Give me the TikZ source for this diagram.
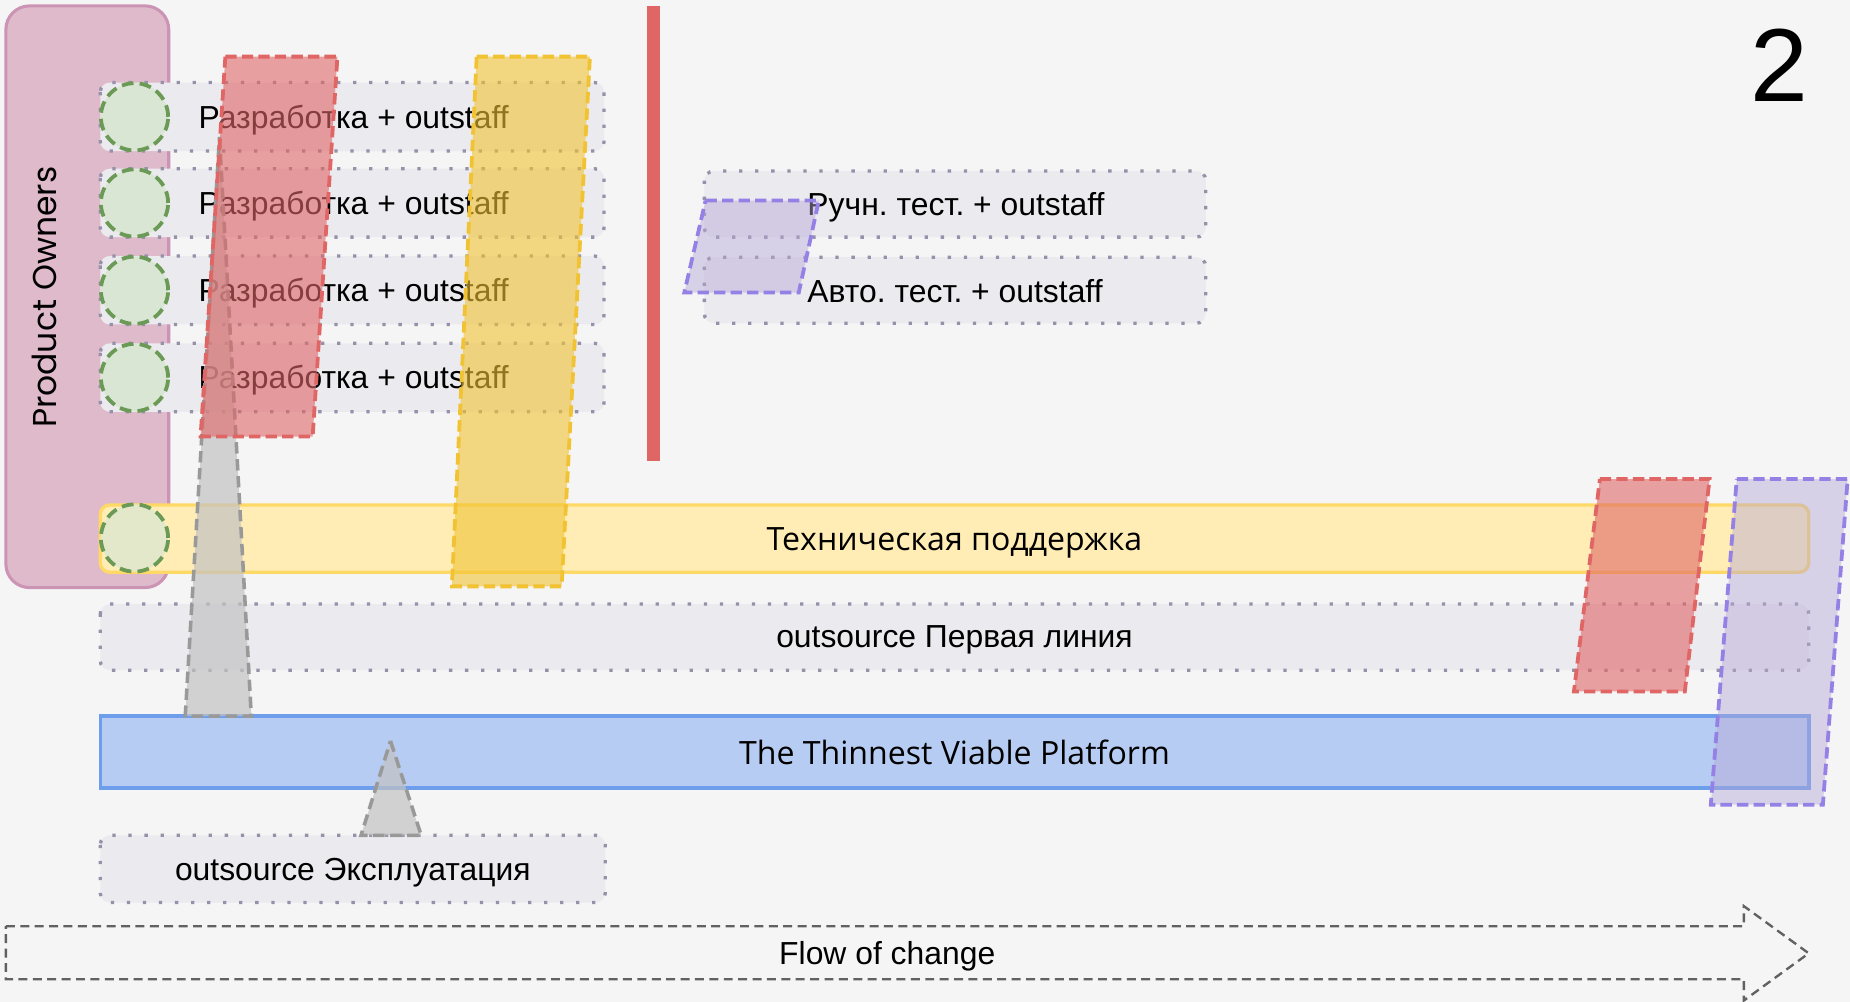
\documentclass[tikz,border=0pt]{standalone}
\usepackage{fontspec}
\setmainfont{Liberation Sans}
\newfontfamily\osans{Open Sans}
\newfontfamily\popfont{Poppins}
\frenchspacing
\usetikzlibrary{calc}
\definecolor{bgc}{HTML}{F5F5F5}
\definecolor{pofill}{HTML}{DFBACB}
\definecolor{podraw}{HTML}{CC94B4}
\definecolor{rowfill}{HTML}{EBEAEF}
\definecolor{rowdraw}{HTML}{9690A8}
\definecolor{cfill}{HTML}{D9E6D3}
\definecolor{cdraw}{HTML}{6A9A55}
\definecolor{redc}{HTML}{E06666}
\definecolor{yelc}{HTML}{F1C232}
\definecolor{purd}{HTML}{9580E6}
\definecolor{purf}{HTML}{B4A7D6}
\definecolor{techf}{HTML}{FFEDB5}
\definecolor{techd}{HTML}{FFD966}
\definecolor{tvpf}{HTML}{B7CCF2}
\definecolor{tvpd}{HTML}{6D9EEB}
\definecolor{greyf}{HTML}{C2C2C2}
\definecolor{greyd}{HTML}{999999}
\tikzset{
  rowbox/.style={fill=rowfill, draw=rowdraw, line width=1.4pt, dash pattern=on 1.4pt off 5.4pt, rounded corners=4pt},
  devcirc/.style={fill=cfill, draw=cdraw, line width=1.6pt, dash pattern=on 5pt off 2.6pt},
  redpara/.style={fill=redc, fill opacity=0.6, draw=redc, line width=1.6pt, dash pattern=on 4.8pt off 2.2pt},
  yelpara/.style={fill=yelc, fill opacity=0.6, draw=yelc, line width=1.6pt, dash pattern=on 4.8pt off 2.2pt},
  purpara/.style={fill=purf, fill opacity=0.45, draw=purd, line width=1.6pt, dash pattern=on 4.8pt off 2.2pt},
  greytri/.style={fill=greyf, fill opacity=0.7, draw=greyd, line width=1.5pt, dash pattern=on 4.8pt off 2.4pt},
  arialtxt/.style={font=\fontsize{13.5}{16}\selectfont, text=black, inner sep=0pt, yshift=-1.2pt},
  opentxt/.style={font=\osans\fontsize{13.6}{16}\selectfont, text=black, inner sep=0pt},
}
\begin{document}
\begin{tikzpicture}[x=0.5pt, y=-0.5pt]
\useasboundingbox (0,0) rectangle (1568,849);
\fill[bgc] (0,0) rectangle (1568,849);

% Product owners
\draw[fill=pofill, draw=podraw, line width=1.3pt, rounded corners=10pt] (5,5) rectangle (143,498);
\node[font=\popfont\fontsize{14}{16}\selectfont, rotate=90, inner sep=0pt] (po) at (38,252) {Product Owners};

% development rows
\foreach \i/\y in {1/99, 2/172, 3/246, 4/320} {
  \draw[rowbox] (85,\y-29) rectangle (512,\y+29);
  \node[devcirc, circle, minimum size=28.5pt, inner sep=0pt] (c\i) at (114,\y) {};
  \node[arialtxt, anchor=west] (dev\i) at (168,\y) {Разработка + outstaff};
}

% test rows
\draw[rowbox] (597,145) rectangle (1022,201);
\draw[rowbox] (597,218) rectangle (1022,274);
\node[arialtxt, anchor=west] (manual) at (684,173) {Ручн. тест. + outstaff};
\node[arialtxt, anchor=west, yshift=1pt] (auto) at (684,246) {Авто. тест. + outstaff};

% tech support
\draw[fill=techf, draw=techd, line width=1.4pt, rounded corners=4pt] (85,428) rectangle (1533,485);
\node[devcirc, circle, minimum size=28.5pt, inner sep=0pt, fill=cfill!70!techf] (c5) at (114,456) {};
\node[opentxt, yshift=-2pt] (tech) at (809,456) {Техническая поддержка};

% first line
\draw[rowbox] (85,512) rectangle (1533,568);
\node[arialtxt] (first) at (809,540) {outsource Первая линия};

% TVP
\draw[fill=tvpf, draw=tvpd, line width=1.5pt] (85,607) rectangle (1533,668);
\node[opentxt] (tvp) at (809,638) {The Thinnest Viable Platform};

% exploitation
\draw[rowbox] (85,708) rectangle (513,765);
\node[arialtxt] (expl) at (299,737) {outsource Эксплуатация};

% grey triangles
\draw[greytri] (186,116) -- (213,607) -- (157,607) -- cycle;
\draw[greytri] (331,628) -- (357,708) -- (306,708) -- cycle;

% red / yellow parallelograms
\draw[redpara] (191,48) -- (286,48) -- (265,370) -- (170,370) -- cycle;
\draw[yelpara] (404,48) -- (500,48) -- (476,497) -- (383,497) -- cycle;

% red bar
\fill[redc] (548,5) rectangle (559,391);

% purple small
\draw[purpara] (598,170) -- (694,170) -- (677,248) -- (580,248) -- cycle;

% right red & purple
\draw[redpara] (1356,406) -- (1449,406) -- (1428,586) -- (1334,586) -- cycle;
\draw[purpara] (1472,406) -- (1566,406) -- (1545,682) -- (1450,682) -- cycle;

% flow of change
\coordinate (fa) at (5,785);
\coordinate (fb) at (1478,785);
\coordinate (fc) at (1478,768);
\coordinate (ftip) at (1533,808);
\coordinate (fd) at (1478,848);
\coordinate (fe) at (1478,830);
\coordinate (ff) at (5,830);
\draw[draw=black!62, line width=1pt, dash pattern=on 3.8pt off 2.3pt] (fa) -- (fb) -- (fc) -- (ftip) -- (fd) -- (fe) -- (ff) -- cycle;
\node[arialtxt] (flow) at (752,808) {Flow of change};

% page number
\node[font=\fontsize{44}{50}\selectfont, inner sep=0pt] (num) at (1508,55) {2};
\end{tikzpicture}
\end{document}
